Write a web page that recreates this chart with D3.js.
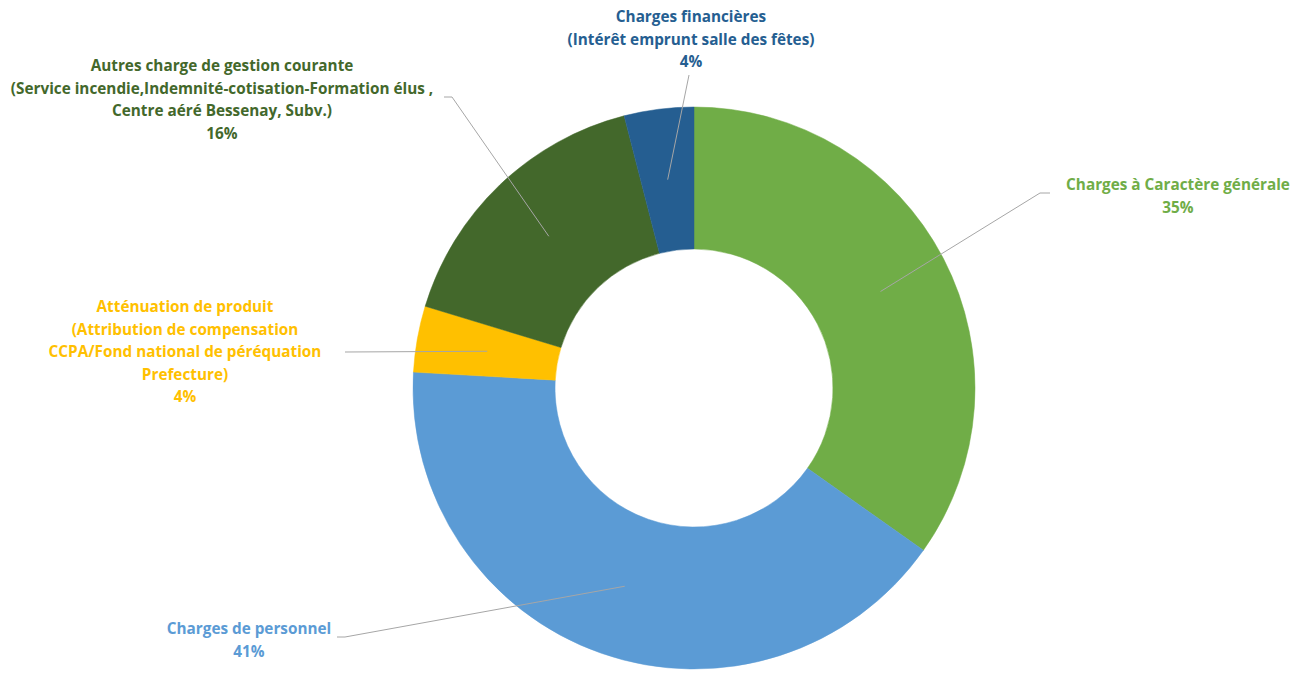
<!DOCTYPE html>
<html>
<head>
<meta charset="utf-8">
<script src="https://cdn.jsdelivr.net/npm/d3@7"></script>
<style>
  body { margin: 0; background: #fff; }
  text { font-family: "Open Sans", Lato, sans-serif; font-weight: bold; font-size: 15.3px; }
</style>
</head>
<body>
<div id="chart"></div>
<script>
// data, clockwise from 12 o'clock
var categories = [
  "Charges à Caractère générale",
  "Charges de personnel",
  "Atténuation de produit",
  "Autres charge de gestion courante",
  "Charges financières"
];
var values = [34.8, 41.1, 3.8, 16.3, 4.0];
var percentLabels = ["35%", "41%", "4%", "16%", "4%"];
var labelLines = [
  ["Charges à Caractère générale"],
  ["Charges de personnel"],
  ["Atténuation de produit", "(Attribution de compensation", "CCPA/Fond national de péréquation", "Prefecture)"],
  ["Autres charge de gestion courante", "(Service incendie,Indemnité-cotisation-Formation élus ,", "Centre aéré Bessenay, Subv.)"],
  ["Charges financières", "(Intérêt emprunt salle des fêtes)"]
];
var colors = ["#70AD47", "#5B9BD5", "#FFC000", "#43682B", "#255E91"];

var width = 1308, height = 673;
var cx = 694, cy = 388;
var outerR = 281, innerR = 139;

// label layout: text centre x, first baseline y, elbow point, line end
var labelLayout = [
  {x: 1178, y: 190, elbow: [1040, 193], end: [1050, 193]},
  {x: 249, y: 634, elbow: [345, 637], end: [337, 637]},
  {x: 185, y: 312, elbow: [345, 352], end: [345, 352]},
  {x: 222, y: 71, elbow: [452, 97], end: [444, 97]},
  {x: 691, y: 22, elbow: [689, 75], end: [689, 75]}
];
var lineH = 22.5;

var svg = d3.select("#chart").append("svg")
    .attr("width", width)
    .attr("height", height);

var pie = d3.pie().sort(null).value(function(d) { return d; });
var arc = d3.arc().innerRadius(innerR).outerRadius(outerR);
var arcs = pie(values);

var g = svg.append("g")
    .attr("transform", "translate(" + cx + "," + cy + ")");

g.selectAll("path.slice").data(arcs)
  .enter().append("path")
    .attr("class", "slice")
    .attr("d", arc)
    .attr("fill", function(d, i) { return colors[i]; })
    .attr("stroke", function(d, i) { return colors[i]; })
    .attr("stroke-width", 0.5);

// leader lines from slice centroid
svg.selectAll("polyline.leader").data(arcs)
  .enter().append("polyline")
    .attr("class", "leader")
    .attr("fill", "none")
    .attr("stroke", "#A6A6A6")
    .attr("stroke-width", 1)
    .attr("points", function(d, i) {
      var c = arc.centroid(d);
      var L = labelLayout[i];
      return [[c[0] + cx, c[1] + cy], L.elbow, L.end].join(" ");
    });

// labels
var labels = svg.selectAll("text.label").data(arcs)
  .enter().append("text")
    .attr("class", "label")
    .attr("text-anchor", "middle")
    .attr("fill", function(d, i) { return colors[i]; });

labels.each(function(d, i) {
  var t = d3.select(this);
  var L = labelLayout[i];
  var lines = labelLines[i].concat([percentLabels[i]]);
  lines.forEach(function(s, k) {
    t.append("tspan")
      .attr("x", L.x)
      .attr("y", L.y + k * lineH)
      .text(s);
  });
});
</script>
</body>
</html>
